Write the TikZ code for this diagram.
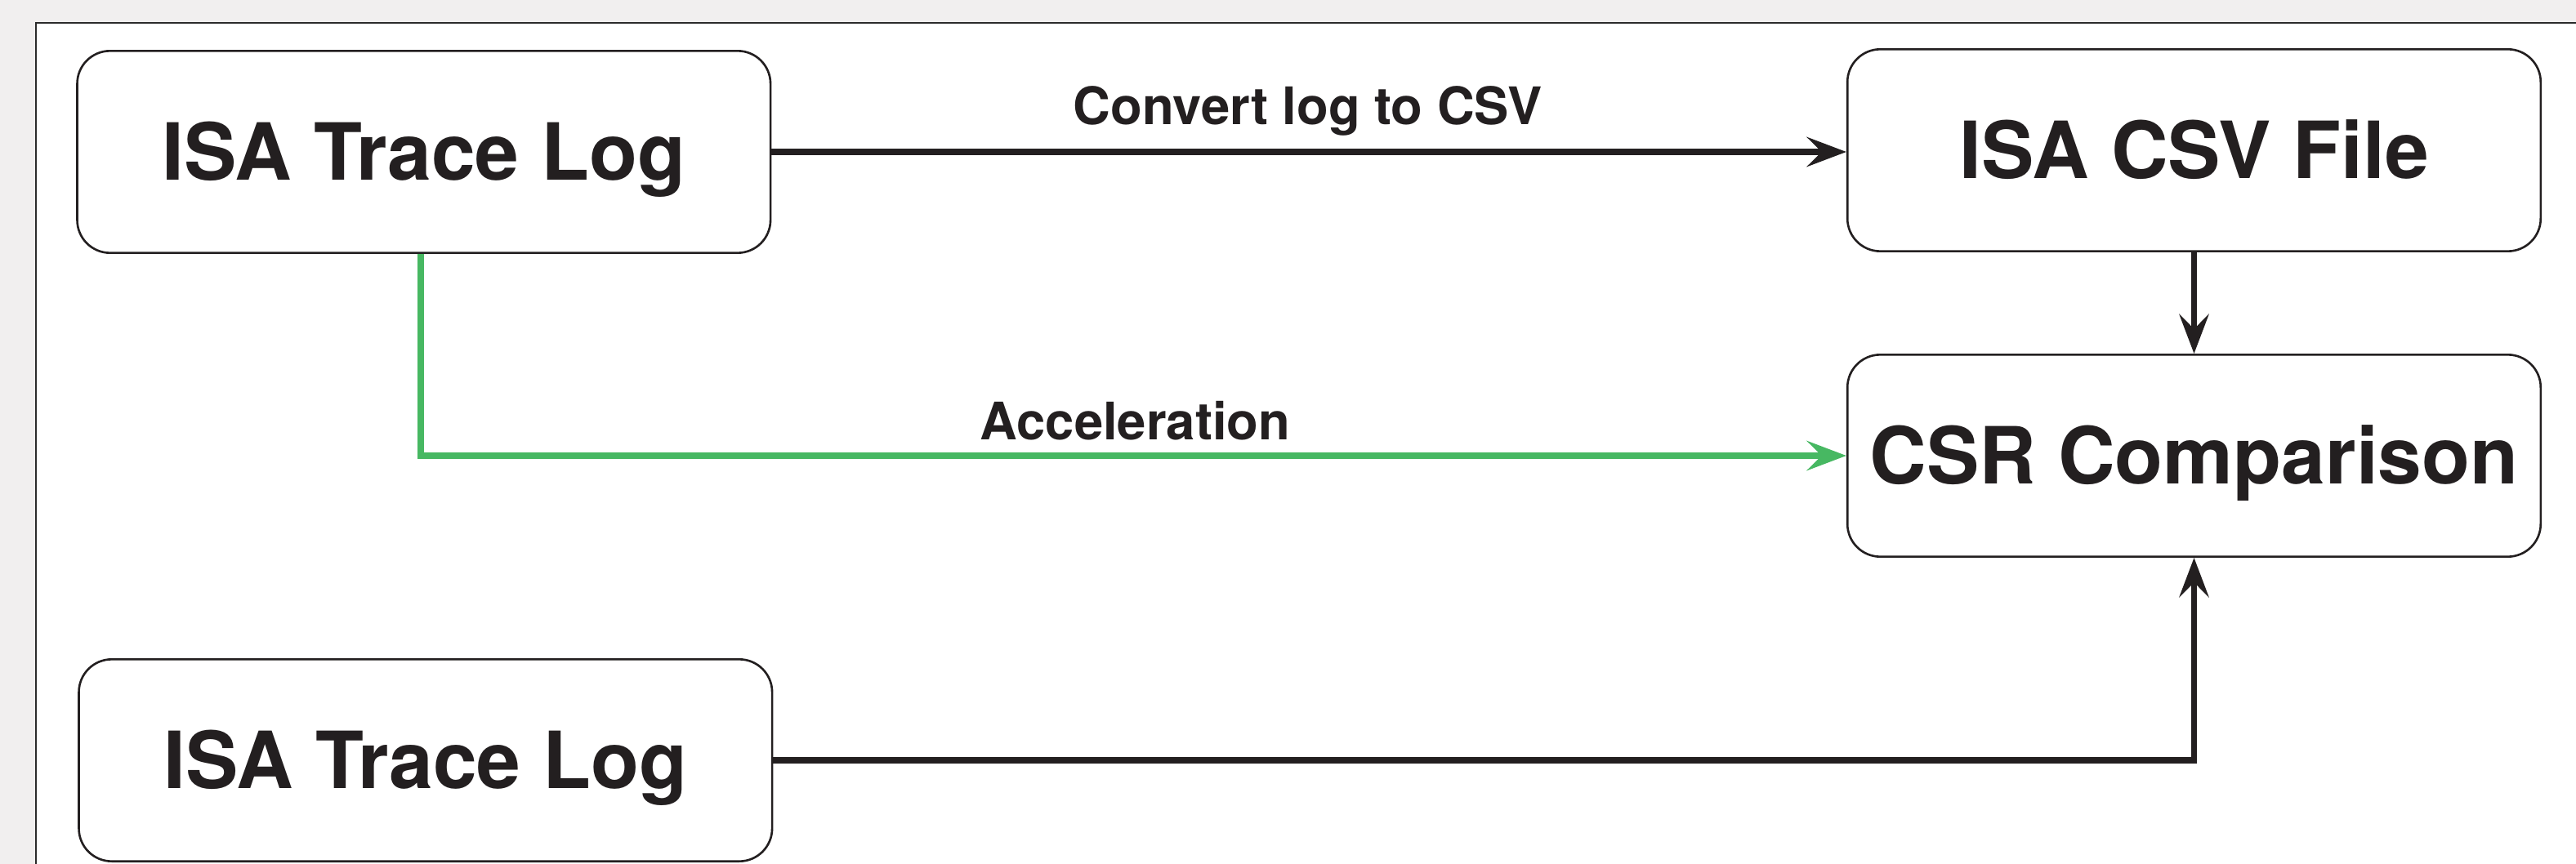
\documentclass[tikz,border=0pt]{standalone}
\usepackage{fontspec}
\setmainfont{TeX Gyre Heros}
\usetikzlibrary{arrows.meta}
\definecolor{ink}{HTML}{231F20}
\definecolor{bggray}{HTML}{F1EFEF}
\definecolor{framecol}{HTML}{2B2B2B}
\definecolor{accgreen}{HTML}{47B862}
\begin{document}
\begin{tikzpicture}[x=1pt,y=-1pt,
  box/.style={draw=ink, line width=1.3pt, rounded corners=20pt, minimum width=422pt, minimum height=123pt, inner sep=0pt, font=\fontsize{48}{52}\selectfont\bfseries, text=ink, text height=34.5pt, text depth=0pt},
  lbl/.style={font=\fontsize{31.5}{34}\selectfont\bfseries, text=ink, inner sep=0pt, anchor=base},
  conn/.style={draw=ink, line width=3.8pt, -{Stealth[length=24pt,width=18pt,inset=9pt]}},
  gconn/.style={conn, draw=accgreen}]
  % page and frame
  \fill[bggray] (0,0) rectangle (1568,526.15);
  \useasboundingbox (0,0) rectangle (1568,526.15);
  \clip (0,0) rectangle (1568,526.15);
  \filldraw[fill=white, draw=framecol, line width=1.2pt] (22,14) rectangle (1600,560);
  % boxes
  \node[box] (trace1) at (258,92.5) {ISA Trace Log};
  \node[box] (csv) at (1335.5,91.5) {ISA CSV File};
  \node[box] (csr) at (1335.5,277.5) {CSR Comparison};
  \node[box] (trace2) at (259,463) {ISA Trace Log};
  % labels
  \node[lbl] (lconv) at (796,76) {Convert log to CSV};
  \node[lbl] (lacc) at (691,268) {Acceleration};
  % connectors
  \draw[conn] (trace1.east) -- (trace1.east -| csv.west);
  \draw[gconn] ([xshift=-2pt]trace1.south) |- (csr.west);
  \draw[conn] (csv.south) -- (csr.north);
  \draw[conn] (trace2.east) -| (csr.south);
\end{tikzpicture}
\end{document}
